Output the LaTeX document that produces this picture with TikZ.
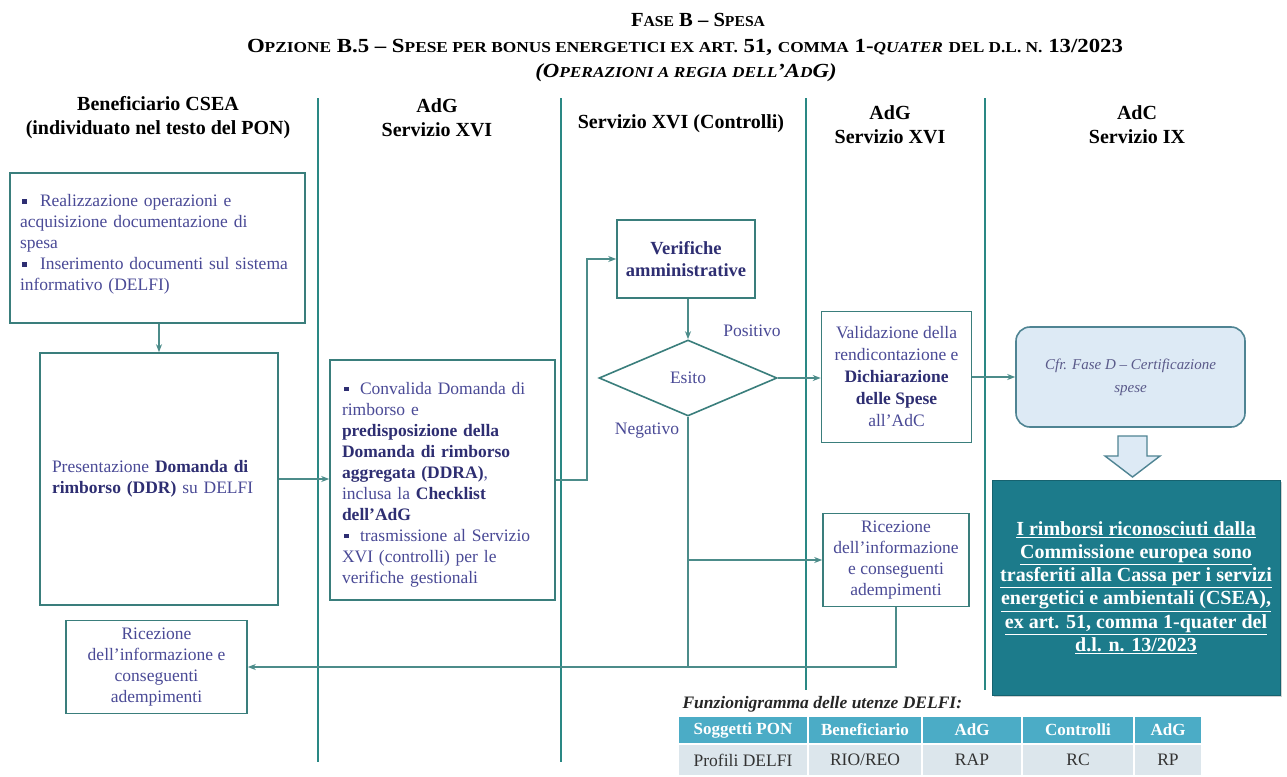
\documentclass[tikz,border=0pt]{standalone}
\usepackage{fontspec}
\setmainfont{Liberation Serif}
\usetikzlibrary{arrows.meta,shapes.geometric,shadows}
\definecolor{lanec}{HTML}{2A8884}
\definecolor{bord}{HTML}{3A7E7C}
\definecolor{connc}{HTML}{4C8C8A}
\definecolor{txt}{HTML}{4A4A96}
\definecolor{btxt}{HTML}{2E2E72}
\definecolor{tealbox}{HTML}{1C7B8B}
\definecolor{thead}{HTML}{4BACC6}
\definecolor{trow}{HTML}{DCE6EC}
\definecolor{cfrfill}{HTML}{DDEAF5}
\definecolor{cfrbord}{HTML}{4F8493}
\definecolor{cfrtxt}{HTML}{5A5A8A}
\newcommand{\sck}[1]{{\fontsize{15.2}{17}\selectfont #1}}
\newcommand{\hb}[1]{\textbf{\color{btxt}#1}}
\newcommand{\bitem}[2]{\par\hangindent=#1pt\hangafter=1\noindent\makebox[#1pt][l]{\hspace{2pt}\raisebox{3pt}{\color{btxt}\rule{4.5pt}{4.5pt}}}#2}
\begin{document}
\begin{tikzpicture}[x=1pt,y=-1pt,
  lane/.style={draw=lanec,line width=2.6pt},
  box/.style={draw=bord,line width=1.6pt,fill=white,inner sep=0pt,text=txt,font=\fontsize{17.5}{21}\selectfont},
  conn/.style={draw=connc,line width=1.4pt},
  arr/.style={conn,-{Stealth[length=8pt,width=6pt]}},
  hdr/.style={font=\bfseries\fontsize{20}{24}\selectfont,align=center,text=black},
  lbl/.style={text=txt,font=\fontsize{17.5}{19}\selectfont},
  ttl/.style={font=\bfseries\fontsize{20}{22}\selectfont},
  thc/.style={fill=thead,draw=white,line width=1.5pt,text=white,font=\bfseries\fontsize{17}{18}\selectfont,minimum height=28pt,inner sep=0pt},
  trc/.style={fill=trow,draw=white,line width=1.5pt,text=black!80,font=\fontsize{17.5}{19}\selectfont,minimum height=32pt,inner sep=0pt}
]
\useasboundingbox (0,0) rectangle (1287,776);
\fill[white] (0,0) rectangle (1287,776);

% titles
\node[ttl] (t1) at (698,20) {\scalebox{1.03}[1]{F\sck{ASE} B – S\sck{PESA}}};
\node[ttl] (t2) at (685,47) {\scalebox{1.14}[1]{O\sck{PZIONE} B.5 – S\sck{PESE PER BONUS ENERGETICI EX ART.} 51, \sck{COMMA} 1-\textit{\sck{QUATER}} \sck{DEL D.L. N.} 13/2023}};
\node[ttl,font=\bfseries\itshape\fontsize{20}{22}\selectfont] (t3) at (686,73) {\scalebox{1.14}[1]{(O\sck{PERAZIONI A REGIA DELL}’A\sck{D}G)}};

% lanes
\draw[lane] (318,98) -- (318,762);
\draw[lane] (561,98) -- (561,762);
\draw[lane] (806,98) -- (806,690);
\draw[lane] (985,98) -- (985,690);

% lane headers
\node[hdr] (h1) at (158,118) {Beneficiario CSEA\\(individuato nel testo del PON)};
\node[hdr] (h2) at (437,118) {AdG\\Servizio XVI};
\node[hdr] (h3) at (681,124) {Servizio XVI (Controlli)};
\node[hdr] (h4) at (890,125) {AdG\\Servizio XVI};
\node[hdr] (h5) at (1137,125) {AdC\\Servizio IX};

% boxes
\node[box,minimum width=295pt,minimum height=150pt,inner xsep=10pt,text width=275pt,align=left] (b1) at (157.5,248)
 {\raggedright\bitem{20}{Realizzazione operazioni e\\acquisizione documentazione di\\spesa}\bitem{20}{Inserimento documenti sul sistema\\informativo (DELFI)}\par\vspace*{16pt}};
\node[box,minimum width=238pt,minimum height=252pt,inner xsep=12pt,text width=214pt,align=left] (b2) at (159,479)
 {Presentazione \hb{Domanda di}\\\hb{rimborso (DDR)} su DELFI};
\node[box,minimum width=225pt,minimum height=240pt,inner xsep=12pt,text width=201pt,align=left] (b3) at (442.5,480)
 {\raggedright\bitem{18}{Convalida Domanda di\\rimborso e\\\hb{predisposizione della}\\\hb{Domanda di rimborso}\\\hb{aggregata (DDRA)},\\inclusa la \hb{Checklist}\\\hb{dell’AdG}}\bitem{18}{trasmissione al Servizio\\XVI (controlli) per le\\verifiche gestionali}};
\node[box,minimum width=138pt,minimum height=78pt,align=center,font=\bfseries\fontsize{18.5}{22}\selectfont,text=btxt] (ver) at (686,259)
 {Verifiche\\amministrative};
\node[box,diamond,aspect=2.34,minimum width=178pt,minimum height=76pt,align=center] (esito) at (688,378) {Esito};
\node[box,minimum width=150pt,minimum height=131pt,align=center,font=\fontsize{17.5}{22}\selectfont] (val) at (896.5,377)
 {Validazione della\\rendicontazione e\\\hb{Dichiarazione}\\\hb{delle Spese}\\all’AdC};
\node[box,minimum width=146pt,minimum height=93pt,align=center] (ric2) at (896,560)
 {Ricezione\\dell’informazione\\e conseguenti\\adempimenti};
\node[box,minimum width=181pt,minimum height=93pt,align=center] (ric1) at (156.5,667)
 {Ricezione\\dell’informazione e\\conseguenti\\adempimenti};
\node[draw=cfrbord,line width=1.6pt,fill=cfrfill,rounded corners=14pt,minimum width=229pt,minimum height=100pt,align=center,
      text=cfrtxt,font=\itshape\fontsize{15}{23}\selectfont] (cfr) at (1130.5,377)
 {Cfr. Fase D – Certificazione\\spese};
\node[fill=tealbox,draw=tealbox!80!black,line width=0.8pt,minimum width=288pt,minimum height=215pt,align=center,text=white,
      font=\bfseries\fontsize{20}{23.2}\selectfont,drop shadow={shadow xshift=2pt,shadow yshift=-2pt,opacity=0.35}] (teal) at (1136,587.5)
 {\underline{I rimborsi riconosciuti dalla}\\\underline{Commissione europea sono}\\\underline{trasferiti alla Cassa per i servizi}\\\underline{energetici e ambientali (CSEA),}\\\underline{ex art. 51, comma 1-quater del}\\\underline{d.l. n. 13/2023}};

% block arrow
\draw[draw=cfrbord,line width=1.4pt,fill=cfrfill,line join=miter]
  (1118,436) -- (1147,436) -- (1147,456) -- (1160,456) -- (1132.5,477) -- (1105,456) -- (1118,456) -- cycle;

% labels
\node[lbl] (pos) at (752,331) {Positivo};
\node[lbl] (neg) at (647,431) {Negativo};

% connectors
\draw[arr] (b2.north |- b1.south) -- (b2.north);
\draw[arr] (b2.east) -- (b3.west |- b2.east);
\draw[arr] (b3.east) -- ++(31,0) |- (ver.west);
\draw[arr] (esito.north |- ver.south) -- (esito.north);
\draw[arr] (esito.east) -- (val.west |- esito.east);
\draw[arr] (val.east) -- (cfr.west |- val.east);
\draw[conn] (esito.south) -- (esito.south |- ric1.east);
\draw[arr] (esito.south |- ric2.west) -- (ric2.west);
\draw[arr] (ric2.south) -- (ric2.south |- ric1.east) -- (ric1.east);

% table
\node[anchor=west,font=\bfseries\itshape\fontsize{17.5}{19}\selectfont,text=black!85] (ftitle) at (679,704) {Funzionigramma delle utenze DELFI:};
\node[thc,minimum width=130pt] (c11) at (743,730) {Soggetti PON};
\node[thc,minimum width=114pt] (c12) at (865,730) {Beneficiario};
\node[thc,minimum width=100pt] (c13) at (972,730) {AdG};
\node[thc,minimum width=112pt] (c14) at (1078,730) {Controlli};
\node[thc,minimum width=68pt] (c15) at (1168,730) {AdG};
\node[trc,minimum width=130pt] (c21) at (743,760) {Profili DELFI};
\node[trc,minimum width=114pt] (c22) at (865,760) {RIO/REO};
\node[trc,minimum width=100pt] (c23) at (972,760) {RAP};
\node[trc,minimum width=112pt] (c24) at (1078,760) {RC};
\node[trc,minimum width=68pt] (c25) at (1168,760) {RP};
\end{tikzpicture}
\end{document}
